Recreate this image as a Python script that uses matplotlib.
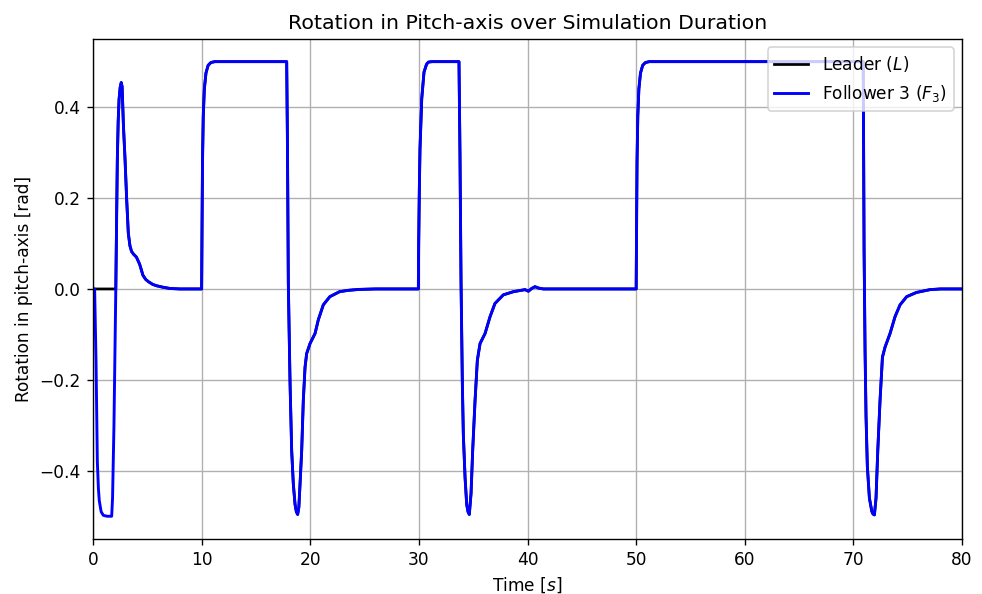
import matplotlib
matplotlib.use("Agg")
import matplotlib.pyplot as plt

# Follower 3 pitch rotation samples (time in s, angle in rad)
follower_time = [
    0.0, 0.15, 0.2, 0.28, 0.4, 0.5, 0.58, 0.75, 0.95, 1.3, 1.72, 1.8, 1.93, 2.02, 2.1,
    2.17, 2.24, 2.32, 2.4, 2.5, 2.6, 2.68, 2.8, 2.95, 3.1, 3.25, 3.4, 3.55, 3.75,
    4.0, 4.3, 4.6, 4.85, 5.1, 5.5, 5.86, 6.4, 7.1, 8.0, 10.0,
    10.03, 10.08, 10.15, 10.25, 10.4, 10.6, 10.85, 11.2, 17.83,
    17.9, 17.98, 18.06, 18.14, 18.29, 18.44, 18.6, 18.72, 18.84, 18.95, 19.06, 19.21,
    19.36, 19.52, 19.67, 19.98, 20.44, 20.74, 21.2, 21.8, 22.7, 23.5, 24.5, 26.0, 29.95,
    29.98, 30.04, 30.1, 30.26, 30.47, 30.7, 30.87, 31.2, 33.69,
    33.78, 33.88, 34.0, 34.09, 34.25, 34.4, 34.52, 34.64, 34.8, 34.95, 35.17, 35.38,
    35.63, 36.09, 36.55, 37.0, 37.77, 38.7, 39.77, 40.08, 40.38, 40.69, 41.0, 41.46, 50.0,
    50.03, 50.08, 50.15, 50.25, 50.4, 50.6, 50.85, 51.2, 70.9,
    70.94, 70.98, 71.07, 71.16, 71.28, 71.47, 71.69, 71.8, 71.93, 72.08, 72.24, 72.45,
    72.67, 72.91, 73.37, 73.83, 74.29, 74.9, 75.8, 77.05, 78.0, 80.0,
]
follower_pitch = [
    0.0, 0.0, -0.06, -0.16, -0.38, -0.44, -0.466, -0.49, -0.498, -0.5, -0.5, -0.46, -0.30, -0.14, 0.0,
    0.15, 0.285, 0.37, 0.417, 0.443, 0.454, 0.445, 0.36, 0.285, 0.197, 0.123, 0.095, 0.0825, 0.076,
    0.07, 0.054, 0.03, 0.021, 0.016, 0.01, 0.007, 0.004, 0.001, 0.0, 0.0,
    0.12, 0.28, 0.38, 0.44, 0.475, 0.492, 0.498, 0.5, 0.5,
    0.32, 0.0125, -0.1, -0.208, -0.356, -0.429, -0.474, -0.49, -0.496, -0.48, -0.429, -0.356,
    -0.245, -0.172, -0.142, -0.12, -0.098, -0.068, -0.035, -0.017, -0.006, -0.003, -0.001, 0.0, 0.0,
    0.1, 0.22, 0.307, 0.418, 0.477, 0.494, 0.499, 0.5, 0.5,
    0.3, 0.0125, -0.208, -0.32, -0.415, -0.474, -0.49, -0.496, -0.45, -0.356, -0.245, -0.157,
    -0.12, -0.098, -0.061, -0.032, -0.013, -0.006, -0.0015, -0.005, 0.001, 0.005, 0.002, 0.0, 0.0,
    0.12, 0.28, 0.38, 0.44, 0.475, 0.492, 0.498, 0.5, 0.5,
    0.3, 0.086, -0.135, -0.28, -0.39, -0.46, -0.489, -0.495, -0.497, -0.46, -0.356, -0.245,
    -0.15, -0.128, -0.098, -0.061, -0.035, -0.017, -0.0077, -0.0015, 0.0, 0.0,
]

# Leader holds zero during the initial transient, then follows the same trajectory
leader_start_time = [0.0, 2.1]
leader_start_pitch = [0.0, 0.0]
join = follower_time.index(2.1)
leader_time = leader_start_time + follower_time[join + 1:]
leader_pitch = leader_start_pitch + follower_pitch[join + 1:]

fig = plt.figure(figsize=(8.0, 4.84), dpi=122.75)
ax = fig.add_axes([0.0947, 0.0926, 0.885, 0.8417])

ax.plot(leader_time, leader_pitch, color="black", linewidth=1.6, label="Leader ($L$)")
ax.plot(follower_time, follower_pitch, color="blue", linewidth=1.7, label="Follower 3 ($F_3$)")

ax.set_xlim(0, 80)
ax.set_ylim(-0.55, 0.55)
ax.set_yticks([-0.4, -0.2, 0.0, 0.2, 0.4])
ax.grid(True)
ax.set_title("Rotation in Pitch-axis over Simulation Duration")
ax.set_xlabel("Time [$s$]")
ax.set_ylabel("Rotation in pitch-axis [rad]")
ax.legend(loc="upper right")

fig.savefig("out.png", dpi=122.75)
